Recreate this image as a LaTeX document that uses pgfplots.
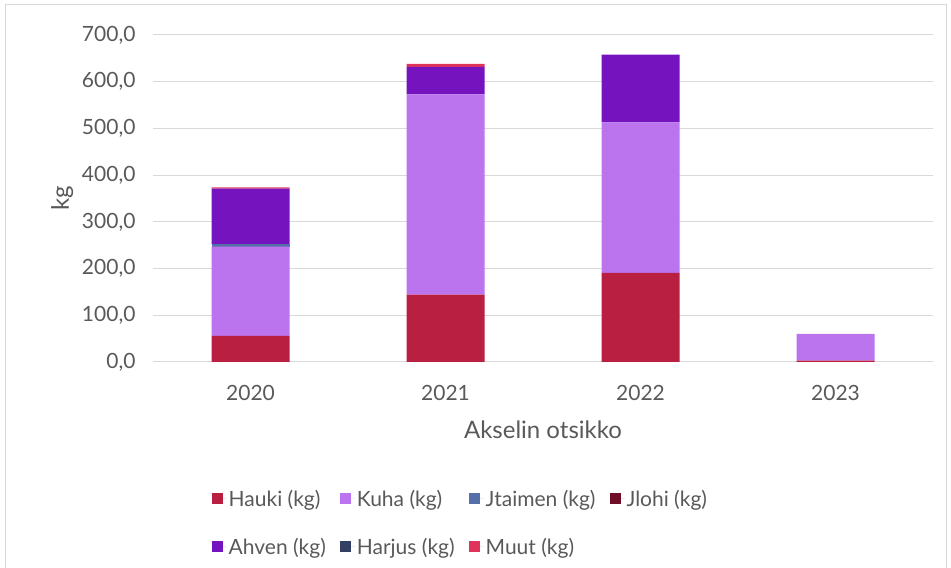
\documentclass[border=0pt]{standalone}
\usepackage{fontspec}
\setmainfont{Lato}
\usepackage{pgfplots}
\pgfplotsset{compat=1.18}
\definecolor{hauki}{HTML}{B91F40}
\definecolor{kuha}{HTML}{BC73EE}
\definecolor{jtaimen}{HTML}{5570A8}
\definecolor{jlohi}{HTML}{6E0F27}
\definecolor{ahven}{HTML}{7514BE}
\definecolor{harjus}{HTML}{333F63}
\definecolor{muut}{HTML}{E0335A}
\definecolor{txt}{HTML}{595959}
\definecolor{grd}{HTML}{D9D9D9}
\begin{document}
\begin{tikzpicture}[x=1bp,y=1bp]
\useasboundingbox (0,0) rectangle (951,568);
\draw[grd, line width=1bp] (5,-5) -- (5,563) -- (946,563) -- (946,-5);
\begin{axis}[
  at={(153bp,206bp)}, anchor=south west,
  scale only axis, width=780bp, height=327bp,
  ybar stacked, bar width=78bp,
  xmin=-0.5, xmax=3.5, ymin=0, ymax=700,
  xtick={0,1,2,3}, xticklabels={2020,2021,2022,2023},
  ytick={0,100,...,700},
  ymajorgrids, grid style={grd, line width=1bp},
  axis line style={draw=none}, tick style={draw=none},
  yticklabel style={/pgf/number format/fixed, /pgf/number format/fixed zerofill, /pgf/number format/precision=1, /pgf/number format/use comma, /pgf/number format/1000 sep={}, /pgf/number format/assume math mode=true},
  ticklabel style={font=\fontsize{21bp}{24bp}\selectfont, text=txt},
  xticklabel style={yshift=-20bp},
  yticklabel style={xshift=-14bp},
  xlabel={Akselin otsikko}, ylabel={kg},
  label style={font=\fontsize{24bp}{28bp}\selectfont, text=txt},
  xlabel style={yshift=-13bp},
  ylabel style={yshift=2bp},
  legend columns=4,
  legend style={at={(rel axis cs:0.075,-0.385)}, anchor=north west, draw=none, fill=none,
    font=\fontsize{21bp}{24bp}\selectfont, text=txt, inner sep=0pt,
    /tikz/every even column/.append style={column sep=12bp},
    row sep=26bp},
  legend cell align=left,
  legend image code/.code={\fill[#1, draw=none] (0bp,-5.5bp) rectangle (11bp,5.5bp); \path (0bp,0bp) -- (15bp,0bp);},
]
\addplot[fill=hauki, draw=none] coordinates {(0,56) (1,144) (2,191) (3,3)};
\addplot[fill=kuha, draw=none] coordinates {(0,191) (1,429) (2,322) (3,57)};
\addplot[fill=jtaimen, draw=none] coordinates {(0,5) (1,0) (2,0) (3,0)};
\addplot[fill=jlohi, draw=none] coordinates {(0,0) (1,0) (2,0) (3,0)};
\addplot[fill=ahven, draw=none] coordinates {(0,119) (1,59) (2,145) (3,0)};
\addplot[fill=harjus, draw=none] coordinates {(0,0) (1,0) (2,0) (3,0)};
\addplot[fill=muut, draw=none] coordinates {(0,3) (1,6) (2,0) (3,0)};
\legend{Hauki (kg),Kuha (kg),Jtaimen (kg),Jlohi (kg),Ahven (kg),Harjus (kg),Muut (kg)}
\end{axis}
\end{tikzpicture}
\end{document}
